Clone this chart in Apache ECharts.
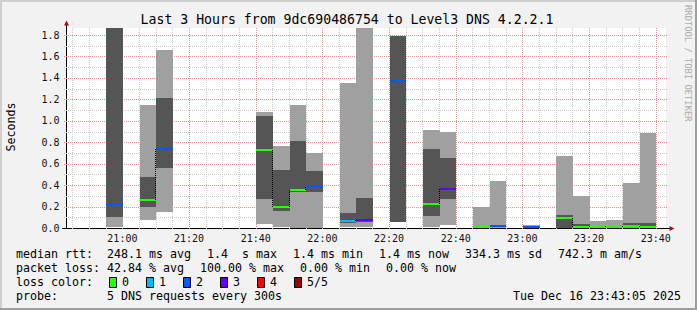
<!DOCTYPE html>
<html><head><meta charset="utf-8">
<script src="https://cdn.jsdelivr.net/npm/echarts@6/dist/echarts.min.js"></script>
<style>html,body{margin:0;padding:0;background:#f2f2f2;}#c{width:697px;height:310px;}</style>
</head><body><div id="c"></div>
<script>
// ---------- data (time in minutes after 20:00) ----------
const windowStart = 43 + 5 / 60;   // 20:43:05
const windowEnd = 223 + 5 / 60;    // 23:43:05
const slotMinutes = 5;
const slotStart  = [55, 65, 70, 100, 105, 110, 115, 125, 130, 140, 150, 155, 165, 170, 180, 190, 195, 200, 205, 210, 215];
const pingMin    = [0.012, 0.075, 0.149, 0.038, 0.012, 0.003, 0.002, 0.012, 0.012, 0.057, 0.012, 0.028, 0.004, 0.004, 0.003, 0.000, 0.002, 0.002, 0.002, 0.003, 0.003];
const smokeLow   = [0.103, 0.196, 0.562, 0.270, 0.161, 0.332, 0.338, 0.050, 0.060, 0.057, 0.112, 0.272, 0.008, 0.010, 0.005, 0.000, 0.003, 0.006, 0.005, 0.007, 0.007];
const smokeHigh  = [1.920, 0.476, 1.213, 1.045, 0.543, 0.810, 0.534, 0.138, 0.280, 1.793, 0.737, 0.653, 0.026, 0.028, 0.012, 0.121, 0.037, 0.015, 0.013, 0.047, 0.047];
const pingMax    = [1.950, 1.147, 1.660, 1.080, 0.767, 1.147, 0.700, 1.356, 1.950, 1.793, 0.914, 0.896, 0.196, 0.438, 0.028, 0.674, 0.299, 0.065, 0.076, 0.420, 0.886];
const medianRtt  = [0.224, 0.261, 0.739, 0.730, 0.199, 0.354, 0.393, 0.067, 0.070, 1.374, 0.225, 0.367, 0.018, 0.022, 0.009, 0.096, 0.010, 0.019, 0.012, 0.016, 0.010];
const lossCount  = [2, 0, 2, 0, 0, 0, 2, 1, 3, 2, 0, 3, 0, 2, 2, 0, 0, 0, 0, 0, 0];

const lossLabels = ['0', '1', '2', '3', '4', '5/5'];
const lossColors = ['#26ff00', '#00b8ff', '#0059ff', '#5e00ff', '#ff0000', '#a00000'];

const yMax = 1.8655;
const yLabelValues = [0, 0.2, 0.4, 0.6, 0.8, 1.0, 1.2, 1.4, 1.6, 1.8];
const yMinorGrid = [0.1, 0.3, 0.5, 0.7, 0.9, 1.1, 1.3, 1.5, 1.7];
const yMajorGrid = [0.2, 0.4, 0.6, 0.8, 1.0, 1.2, 1.4, 1.6, 1.8];
const xLabelMinutes = [60, 80, 100, 120, 140, 160, 180, 200, 220];
const xMinorGrid = [45, 50, 55, 65, 70, 75, 85, 90, 95, 105, 110, 115, 125, 130, 135, 145, 150, 155, 165, 170, 175, 185, 190, 195, 205, 210, 215];
const xMajorGrid = [60, 80, 100, 120, 140, 160, 180, 200, 220];

const titleText = 'Last 3 Hours from 9dc690486754 to Level3 DNS 4.2.2.1';
const unitText = 'Seconds';
const watermarkText = 'RRDTOOL / TOBI OETIKER';
const medianStats = ['248.1 ms avg', '1.4  s max', '1.4 ms min', '1.4 ms now', '334.3 ms sd', '742.3 m am/s'];
const lossStats = ['42.84 % avg', '100.00 % max', '0.00 % min', '0.00 % now'];
const rowLabels = ['median rtt:', 'packet loss:', 'loss color:', 'probe:'];
const probeText = '5 DNS requests every 300s';
const stampText = 'Tue Dec 16 23:43:05 2025';

// ---------- styling / layout ----------
const MONO = "'DejaVu Sans Mono', monospace";
const LIGHT = '#a0a0a0', DARK = '#555555';
const MINOR = '#c9c9c9', MAJOR = '#e49494';
const legendFont = '11.63px ' + MONO;
const CH = 7, GAP = 16, COL0 = 16, COL1 = 107;
const rowY = [253.7, 267.7, 281.7, 295.7];

const fmtTime = v => { const m = Math.round(v); const h = 20 + Math.floor(m / 60); const mm = m % 60; return h + ':' + (mm < 10 ? '0' : '') + mm; };

const graphics = [];
// frame
graphics.push({type: 'rect', shape: {x: 0, y: 0, width: 697, height: 2}, style: {fill: '#cfcfcf'}, silent: true});
graphics.push({type: 'rect', shape: {x: 0, y: 0, width: 2, height: 310}, style: {fill: '#cfcfcf'}, silent: true});
graphics.push({type: 'rect', shape: {x: 695, y: 0, width: 2, height: 310}, style: {fill: '#9e9e9e'}, silent: true});
graphics.push({type: 'rect', shape: {x: 0, y: 308, width: 697, height: 2}, style: {fill: '#9e9e9e'}, silent: true});
// title
graphics.push({type: 'text', x: 347, y: 19.3, style: {text: titleText, font: '13.2px ' + MONO, fill: '#000', align: 'center', verticalAlign: 'middle'}});
// unit label
graphics.push({type: 'text', x: 10.5, y: 127, rotation: Math.PI / 2, style: {text: unitText, font: legendFont, fill: '#000', align: 'center', verticalAlign: 'middle'}});
// watermark
graphics.push({type: 'text', x: 688.3, y: 63.3, rotation: -Math.PI / 2, style: {text: watermarkText, font: '8.8px ' + MONO, fill: '#ababab', align: 'center', verticalAlign: 'middle'}});
// axis extensions and arrows
graphics.push({type: 'line', shape: {x1: 66.5, y1: 22, x2: 66.5, y2: 30}, style: {stroke: '#000', lineWidth: 1}});
graphics.push({type: 'line', shape: {x1: 62, y1: 228.5, x2: 671, y2: 228.5}, style: {stroke: '#000', lineWidth: 1}});
graphics.push({type: 'polygon', shape: {points: [[64, 25.5], [69, 25.5], [66.5, 20.5]]}, style: {fill: '#a01010'}});
graphics.push({type: 'polygon', shape: {points: [[669.5, 226], [669.5, 231], [674.5, 228.5]]}, style: {fill: '#a01010'}});

// legend rows
function textAt(x, y, s, align) {
  graphics.push({type: 'text', x: x, y: y, style: {text: s, font: legendFont, fill: '#000', align: align || 'left', verticalAlign: 'middle'}});
}
rowLabels.forEach((s, i) => textAt(COL0, rowY[i], s));
let x = COL1;
medianStats.forEach(s => { textAt(x, rowY[0], s); x += s.length * CH + GAP; });
x = COL1;
lossStats.forEach(s => { textAt(x, rowY[1], s); x += s.length * CH + GAP; });
let bx = 108.7;
lossLabels.forEach((s, i) => {
  graphics.push({type: 'rect', shape: {x: Math.round(bx) + 0.5, y: 277.5, width: 7, height: 10}, style: {fill: lossColors[i], stroke: '#000', lineWidth: 1}});
  const lx = bx + 13.3;
  textAt(lx, rowY[2], s);
  bx = lx + s.length * CH + 16.7;
});
textAt(COL1, rowY[3], probeText);
textAt(681, rowY[3], stampText, 'right');

// ---------- series ----------
const bars = slotStart.map((t, i) => [t, pingMin[i], smokeLow[i], smokeHigh[i], pingMax[i], medianRtt[i], lossCount[i]]);

function gridSeries(values, vertical, color) {
  return {
    type: 'custom', z: 1, silent: true, animation: false,
    data: values.map(v => vertical ? [v, 0] : [windowStart, v]),
    renderItem(params, api) {
      const cs = params.coordSys;
      if (vertical) {
        const px = Math.round(api.coord([api.value(0), 0])[0]) + 0.5;
        return {type: 'line', shape: {x1: px, y1: cs.y, x2: px, y2: cs.y + cs.height + 2}, style: {stroke: color, lineWidth: 1, lineDash: [1, 1]}};
      }
      const py = Math.round(api.coord([windowStart, api.value(1)])[1]) + 0.5;
      return {type: 'line', shape: {x1: cs.x - 2, y1: py, x2: cs.x + cs.width + 2, y2: py}, style: {stroke: color, lineWidth: 1, lineDash: [1, 1]}};
    }
  };
}

const smokeSeries = {
  type: 'custom', z: 3, silent: true, animation: false,
  data: bars,
  renderItem(params, api) {
    const cs = params.coordSys;
    const i = params.dataIndex;
    const t = api.value(0);
    const xa = Math.ceil(api.coord([t, 0])[0]);
    const xb = Math.ceil(api.coord([t + slotMinutes, 0])[0]);
    const Y = v => Math.min(cs.y + cs.height, Math.max(cs.y, Math.round(api.coord([t, v])[1])));
    const kids = [];
    const yHi = Y(api.value(4)), yLo = Y(api.value(1));
    kids.push({type: 'rect', shape: {x: xa, y: yHi, width: xb - xa, height: Math.max(yLo - yHi, 0)}, style: {fill: LIGHT}});
    const yDHi = Y(api.value(3)), yDLo = Y(api.value(2));
    kids.push({type: 'rect', shape: {x: xa, y: yDHi, width: xb - xa, height: Math.max(yDLo - yDHi, 0)}, style: {fill: DARK}});
    const ym = Math.round(api.coord([t, api.value(5)])[1]);
    if (i > 0 && slotStart[i - 1] === t - slotMinutes) {
      const yp = Math.round(api.coord([t, medianRtt[i - 1]])[1]);
      kids.push({type: 'line', shape: {x1: xa - 0.5, y1: yp, x2: xa - 0.5, y2: ym}, style: {stroke: '#000', lineWidth: 1, lineDash: [1, 1]}});
    }
    kids.push({type: 'rect', shape: {x: xa, y: ym - 1, width: xb - xa, height: 2}, style: {fill: lossColors[api.value(6)]}});
    return {type: 'group', children: kids};
  }
};

const chart = echarts.init(document.getElementById('c'), null, {renderer: 'svg', width: 697, height: 310});
chart.setOption({
  animation: false,
  backgroundColor: '#f2f2f2',
  grid: {left: 66, top: 28, width: 600, height: 200, containLabel: false, outerBoundsMode: 'none', show: true, backgroundColor: '#ffffff', borderWidth: 0},
  xAxis: {
    type: 'value', min: windowStart, max: windowEnd,
    axisLine: {show: true, onZero: false, lineStyle: {color: '#000', width: 1}},
    axisTick: {show: false}, splitLine: {show: false},
    axisLabel: {customValues: xLabelMinutes, formatter: fmtTime, fontFamily: MONO, fontSize: 10, color: '#111', margin: 10, verticalAlign: 'middle', showMinLabel: true, showMaxLabel: true}
  },
  yAxis: {
    type: 'value', min: 0, max: yMax,
    axisLine: {show: true, lineStyle: {color: '#000', width: 1}},
    axisTick: {show: false}, splitLine: {show: false},
    axisLabel: {customValues: yLabelValues, formatter: v => v.toFixed(1), fontFamily: MONO, fontSize: 10, color: '#111', margin: 6.5}
  },
  graphic: {elements: graphics},
  series: [
    gridSeries(xMinorGrid, true, MINOR),
    gridSeries(yMinorGrid, false, MINOR),
    gridSeries(xMajorGrid, true, MAJOR),
    gridSeries(yMajorGrid, false, MAJOR),
    smokeSeries
  ]
});
</script></body></html>
